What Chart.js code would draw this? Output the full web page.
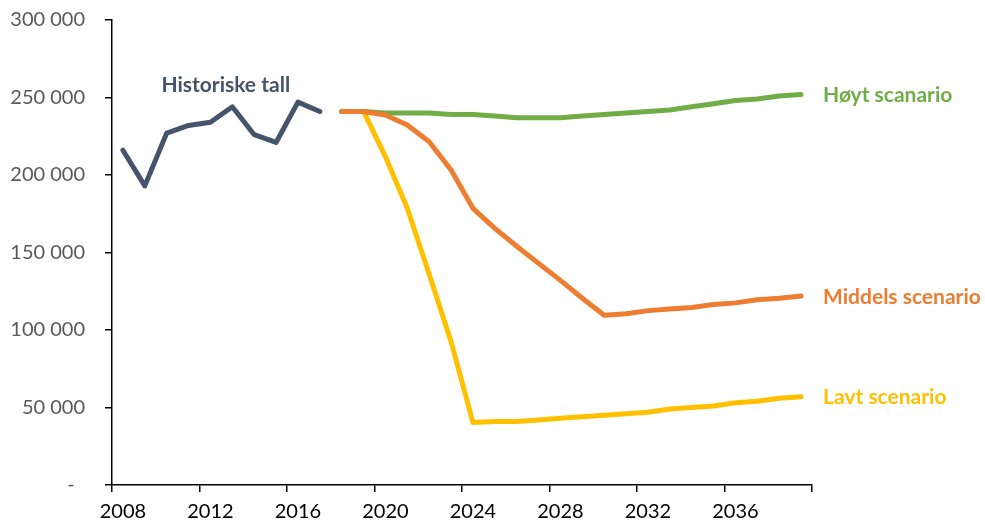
<!DOCTYPE html>
<html>
<head>
<meta charset="utf-8">
<script src="https://cdn.jsdelivr.net/npm/chart.js@4.4.1/dist/chart.umd.min.js"></script>
<style>
  body { margin: 0; background: #fff; }
  #wrap { width: 985px; height: 527px; position: relative; }
</style>
</head>
<body>
<div id="wrap"><canvas id="chart"></canvas></div>
<script>
const years = ["2008", "2009", "2010", "2011", "2012", "2013", "2014", "2015",
  "2016", "2017", "2018", "2019", "2020", "2021", "2022", "2023",
  "2024", "2025", "2026", "2027", "2028", "2029", "2030", "2031",
  "2032", "2033", "2034", "2035", "2036", "2037", "2038", "2039"];

// 2008-2017
const historiske = [216000, 193000, 227000, 232000, 234000, 244000, 226000, 221000, 247000, 241000];

// 2018-2039
const hoyt = [241000, 241000, 240000, 240000, 240000, 239000, 239000, 238000, 237000, 237000, 237000,
  238000, 239000, 240000, 241000, 242000, 244000, 246000, 248000, 249000, 251000, 252000];
const middels = [241000, 241000, 238700, 232300, 221500, 203200, 178500, 165600, 154000, 143000, 132000,
  120500, 109500, 110500, 112500, 113500, 114500, 116500, 117500, 119500, 120500, 122000];
const lavt = [241000, 241000, 211800, 178500, 136000, 92500, 40400, 41000, 41000, 42000, 43000,
  44000, 45000, 46000, 47000, 49000, 50000, 51000, 53000, 54000, 56000, 57000];

const yTicks = [0, 50000, 100000, 150000, 200000, 250000, 300000];

const histPad = new Array(years.length - historiske.length).fill(null);
const scenPad = new Array(historiske.length).fill(null);

function series(label, values, color, endLabel) {
  return {
    label: label,
    data: values,
    borderColor: color,
    borderWidth: 5,
    borderCapStyle: 'round',
    borderJoinStyle: 'round',
    pointRadius: 0,
    tension: 0,
    endLabel: endLabel
  };
}

// text next to the lines
const lineLabels = {
  id: 'lineLabels',
  afterDatasetsDraw(chart) {
    const ctx = chart.ctx;
    ctx.save();
    ctx.font = 'bold 21px Lato';
    ctx.textBaseline = 'middle';
    chart.data.datasets.forEach((ds, i) => {
      if (!ds.endLabel) return;
      const pts = chart.getDatasetMeta(i).data;
      const last = pts[pts.length - 1];
      ctx.fillStyle = ds.borderColor;
      ctx.textAlign = 'left';
      ctx.fillText(ds.label, last.x + 22, last.y + 1);
    });
    const x = chart.scales.x.getPixelForValue(4.7);
    const y = chart.scales.y.getPixelForValue(258000);
    ctx.fillStyle = '#44546A';
    ctx.textAlign = 'center';
    ctx.fillText('Historiske tall', x, y);
    ctx.restore();
  }
};

Chart.defaults.font.family = 'Lato';

const config = {
  type: 'line',
  data: {
    labels: years,
    datasets: [
      series('Middels scenario', scenPad.concat(middels), '#ED7D31', true),
      series('Høyt scanario', scenPad.concat(hoyt), '#70AD47', true),
      series('Lavt scenario', scenPad.concat(lavt), '#FFC000', true),
      series('Historiske tall', historiske.concat(histPad), '#44546A', false)
    ]
  },
  options: {
    responsive: true,
    maintainAspectRatio: false,
    animation: false,
    devicePixelRatio: 1,
    layout: { padding: { left: 0, right: 173, top: 20, bottom: 0 } },
    plugins: {
      legend: { display: false },
      tooltip: { enabled: false }
    },
    scales: {
      x: {
        type: 'category',
        offset: true,
        border: { display: true, color: '#000', width: 1.5 },
        grid: {
          offset: true,
          drawOnChartArea: false,
          drawTicks: true,
          tickLength: 7,
          lineWidth: 1.5,
          color: (c) => (c.index === undefined || c.index % 4 === 0) ? '#000' : 'rgba(0,0,0,0)'
        },
        ticks: {
          autoSkip: false,
          maxRotation: 0,
          padding: 8,
          color: '#000',
          font: { size: 20 },
          callback: function (value, index) {
            return index % 4 === 0 ? this.getLabelForValue(value) : '';
          }
        },
        afterFit(scale) {
          scale.height = 42;
          scale.paddingTop = 0;
          scale.paddingBottom = 0;
        }
      },
      y: {
        min: 0,
        max: 300000,
        afterBuildTicks(scale) { scale.ticks = yTicks.map(v => ({ value: v })); },
        border: { display: true, color: '#000', width: 1.5 },
        grid: {
          drawOnChartArea: false,
          drawTicks: true,
          tickLength: 7,
          lineWidth: 1.5,
          color: '#000'
        },
        ticks: {
          padding: 20,
          color: '#595959',
          font: { size: 20 },
          callback: (v) => v === 0 ? '-  ' : String(v).replace(/\B(?=(\d{3})+(?!\d))/g, ' ')
        },
        afterFit(scale) {
          scale.width = 112;
          scale.paddingTop = 0;
          scale.paddingBottom = 0;
        }
      }
    }
  },
  plugins: [lineLabels]
};

const chart = new Chart(document.getElementById('chart'), config);
</script>
</body>
</html>
